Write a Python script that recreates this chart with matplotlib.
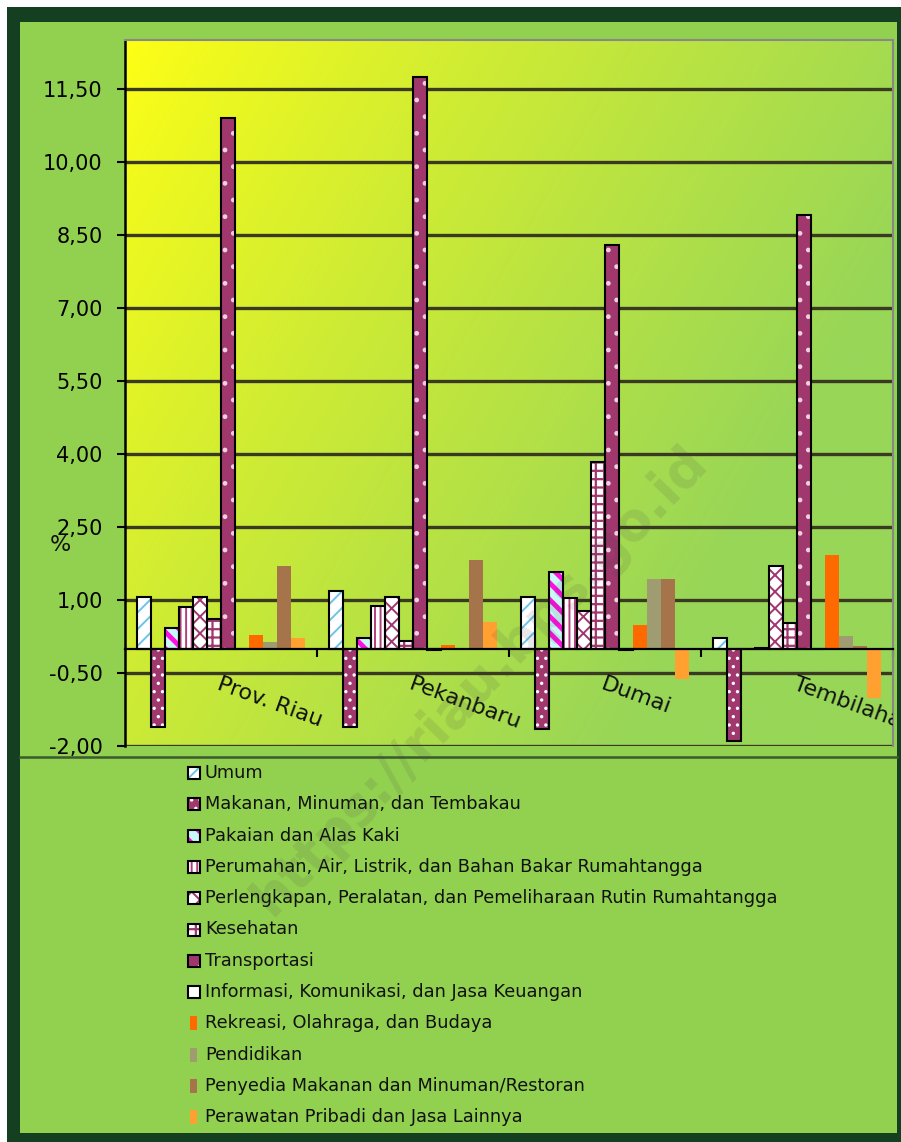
import numpy as np
import matplotlib
matplotlib.use('Agg')
import matplotlib.pyplot as plt
from matplotlib.patches import Rectangle
from matplotlib.lines import Line2D

# ---------------- data ----------------
regions = ["Prov. Riau", "Pekanbaru", "Dumai", "Tembilahan"]
series_names = [
    "Umum",
    "Makanan, Minuman, dan Tembakau",
    "Pakaian dan Alas Kaki",
    "Perumahan, Air, Listrik, dan Bahan Bakar Rumahtangga",
    "Perlengkapan, Peralatan, dan Pemeliharaan Rutin Rumahtangga",
    "Kesehatan",
    "Transportasi",
    "Informasi, Komunikasi, dan Jasa Keuangan",
    "Rekreasi, Olahraga, dan Budaya",
    "Pendidikan",
    "Penyedia Makanan dan Minuman/Restoran",
    "Perawatan Pribadi dan Jasa Lainnya",
]
umum = [1.07, 1.18, 1.06, 0.22]
makanan = [-1.60, -1.60, -1.65, -1.90]
pakaian = [0.43, 0.22, 1.58, 0.00]
perumahan = [0.85, 0.88, 1.03, 0.02]
perlengkapan = [1.05, 1.05, 0.78, 1.69]
kesehatan = [0.61, 0.15, 3.84, 0.53]
transportasi = [10.89, 11.73, 8.28, 8.90]
informasi = [0.00, -0.02, -0.02, 0.00]
rekreasi = [0.27, 0.08, 0.49, 1.93]
pendidikan = [0.13, 0.00, 1.44, 0.25]
penyedia = [1.69, 1.83, 1.44, 0.05]
perawatan = [0.22, 0.54, -0.62, -1.01]
yticks = [-2.00, -0.50, 1.00, 2.50, 4.00, 5.50, 7.00, 8.50, 10.00, 11.50]

values = [umum, makanan, pakaian, perumahan, perlengkapan, kesehatan,
          transportasi, informasi, rekreasi, pendidikan, penyedia, perawatan]

# style per series: (face, hatch, hatchcolor, outlined, hatch linewidth)
styles = [
    ("white", "//", "#6cc4ea", True, 1.4),
    ("#a0386e", "..", "white", True, 1.2),
    ("#c8f8f8", "\\\\", "#ff10e0", True, 3.5),
    ("white", "|||", "#b0407a", True, 1.4),
    ("white", "xx", "#a0386e", True, 1.4),
    ("white", "++", "#a0386e", True, 1.6),
    ("#a0386e", ".", "#f0d0e0", True, 1.0),
    ("white", None, None, True, 1.0),
    ("#ff6a00", None, None, False, 1.0),
    ("#a09c72", None, None, False, 1.0),
    ("#a5744a", None, None, False, 1.0),
    ("#ffa030", None, None, False, 1.0),
]

W, H = 901, 1142
plt.rcParams['hatch.linewidth'] = 1.5
fig = plt.figure(figsize=(W / 100, H / 100), dpi=100)
fig.patch.set_facecolor('white')


def fx(px):
    return px / W


def fy(py):
    return 1 - py / H


# frame
fig.add_artist(Rectangle((fx(7), fy(1142)), fx(894), 1135 / H, transform=fig.transFigure,
                         facecolor='#143f20', edgecolor='none', zorder=-10))
fig.add_artist(Rectangle((fx(20), fy(1133)), fx(877), 1111 / H, transform=fig.transFigure,
                         facecolor='#92d050', edgecolor='none', zorder=-9))
fig.add_artist(Line2D([fx(20), fx(897)], [fy(757), fy(757)], transform=fig.transFigure,
                      color='#3c5a30', lw=1.8, zorder=-8))

# axes
ax = fig.add_axes([fx(125), fy(746), fx(768), 706 / H])
ax.set_xlim(-0.5, 3.5)
ax.set_ylim(-2.0, 12.5)

# gradient background
nx, ny = 200, 200
xf = np.linspace(0, 1, nx)[None, :]
yf = np.linspace(0, 1, ny)[:, None]
t = np.clip(0.85 * xf + 0.45 * yf, 0, 1) ** 0.85
c0 = np.array([255, 255, 20]) / 255
c1 = np.array([152, 214, 88]) / 255
img = c0[None, None, :] * (1 - t[..., None]) + c1[None, None, :] * t[..., None]
ax.imshow(img, extent=[-0.5, 3.5, -2.0, 12.5], aspect='auto', origin='upper',
          zorder=0, interpolation='bilinear')

ax.set_axisbelow(True)
ax.set_yticks(yticks)
ax.set_yticklabels([f"{v:.2f}".replace('.', ',') for v in yticks])
ax.yaxis.grid(True, color='#3a3a22', lw=2.4)
ax.tick_params(axis='y', length=6, width=1.5, pad=10, labelsize=15, direction='out')

ax.set_xticks([0.5, 1.5, 2.5, 3.5])
ax.set_xticklabels([])
ax.tick_params(axis='x', length=6, width=1.5, direction='out')

ax.spines['bottom'].set_position(('data', 0))
ax.spines['bottom'].set_linewidth(1.6)
ax.spines['left'].set_linewidth(1.8)
for s in ('top', 'right'):
    ax.spines[s].set_color('#888888')
    ax.spines[s].set_linewidth(1.5)

# bars
n = len(values)
w = 14 / 192
x = np.arange(len(regions))
for j, (vals, (face, hatch, hc, outlined, hlw)) in enumerate(zip(values, styles)):
    pos = x + (j - (n - 1) / 2) * w
    if hatch:
        with plt.rc_context({'hatch.linewidth': hlw}):
            bars = ax.bar(pos, vals, w, color=face, hatch=hatch, edgecolor=hc,
                          linewidth=0, zorder=2)
            for b in bars:
                if hasattr(b, 'set_hatch_linewidth'):
                    b.set_hatch_linewidth(hlw)
    else:
        ax.bar(pos, vals, w, color=face, linewidth=0, zorder=2)
    if outlined:
        ax.bar(pos, vals, w, fill=False, edgecolor='black', linewidth=1.5, zorder=2.1)

# category labels
for i, name in enumerate(regions):
    ax.text(i, -0.52, name, rotation=-20, rotation_mode='anchor', ha='left', va='top',
            fontsize=16, color='#111111', clip_on=True, zorder=5)

# % label
fig.text(fx(60), fy(545), "%", fontsize=16, ha='center', va='center', color='#111111')

# legend
row0, dy = 773, 31.3
for j, (name, (face, hatch, hc, outlined, hlw)) in enumerate(zip(series_names, styles)):
    yc = row0 + j * dy
    if outlined:
        with plt.rc_context({'hatch.linewidth': min(hlw, 2.0)}):
            r = Rectangle((fx(188), fy(yc + 6)), fx(12), 12 / H, transform=fig.transFigure,
                          facecolor=face, hatch=hatch, edgecolor=hc if hatch else 'none',
                          linewidth=0)
        fig.add_artist(r)
        fig.add_artist(Rectangle((fx(188), fy(yc + 6)), fx(12), 12 / H, transform=fig.transFigure,
                                 fill=False, edgecolor='black', linewidth=1.5))
    else:
        fig.add_artist(Rectangle((fx(190), fy(yc + 7)), fx(7), 14 / H, transform=fig.transFigure,
                                 facecolor=face, edgecolor='none'))
    fig.text(fx(205), fy(yc), name, fontsize=12.8, ha='left', va='center', color='#111111')

# watermark
fig.text(fx(480), fy(680), "https://riau.bps.go.id", rotation=46, fontsize=38,
         fontweight='bold', color='#404040', alpha=0.12, ha='center', va='center', zorder=20)

fig.savefig('out.png', dpi=100, facecolor=fig.get_facecolor())
